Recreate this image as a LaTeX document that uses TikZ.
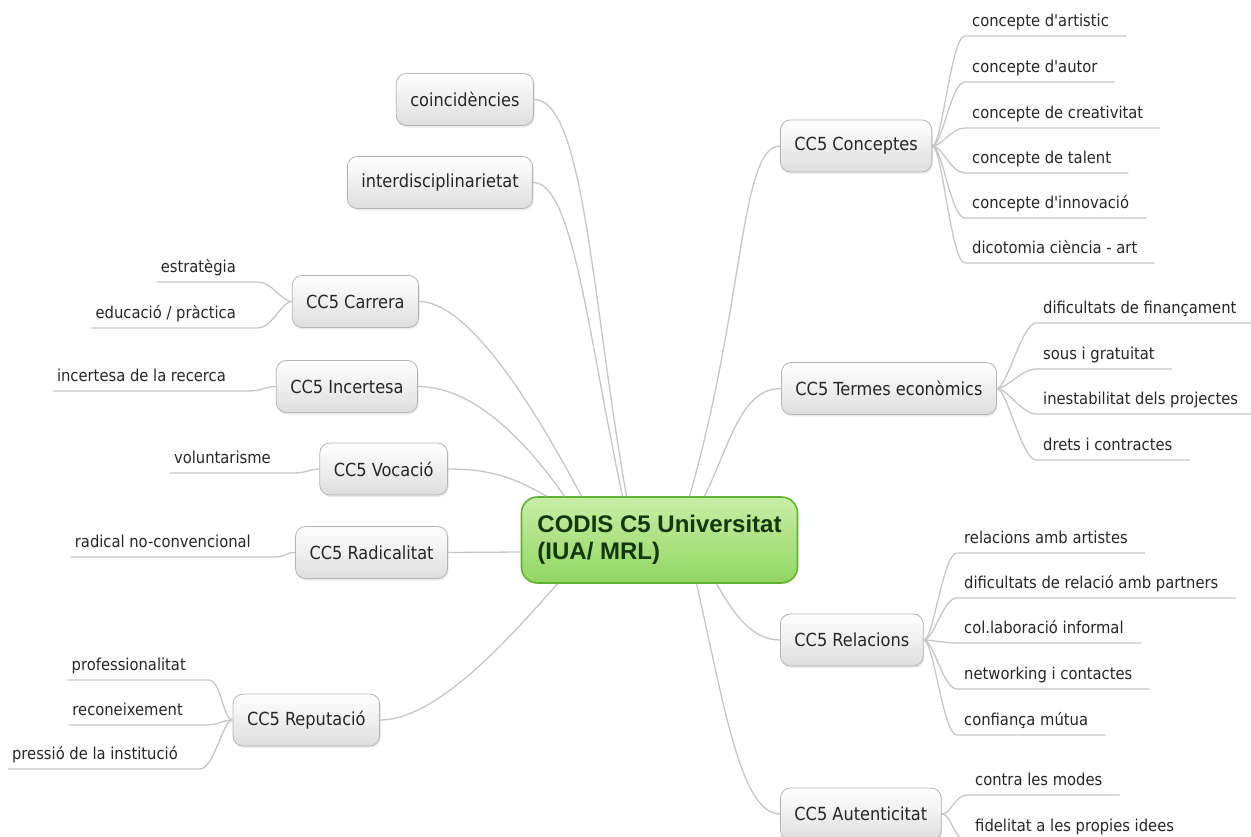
\documentclass[tikz,border=0pt]{standalone}
\usepackage{fontspec}
\setmainfont{DejaVu Sans Condensed}
\newfontfamily\rootfont{Liberation Sans}
\usetikzlibrary{shadows}

\definecolor{linegray}{RGB}{198,198,198}
\definecolor{boxline}{RGB}{180,180,180}
\definecolor{boxbot}{RGB}{222,222,222}
\definecolor{roottop}{RGB}{200,238,166}
\definecolor{rootbot}{RGB}{146,214,98}
\definecolor{rootline}{RGB}{98,178,50}
\definecolor{roottext}{RGB}{18,56,12}
\definecolor{inktext}{RGB}{38,38,38}

\begin{document}
\begin{tikzpicture}[
    x=1pt, y=1pt,
    root/.style={rounded corners=16pt, draw=rootline, line width=1.6pt,
      top color=roottop, bottom color=rootbot, align=left, inner xsep=16pt,
      minimum height=86pt, text=roottext,
      font=\rootfont\bfseries\fontsize{24}{27}\selectfont},
    topic/.style={rounded corners=10pt, draw=boxline, line width=0.8pt,
      top color=white, bottom color=boxbot, inner xsep=14pt,
      minimum height=52pt, text=inktext, font=\fontsize{18}{21}\selectfont,
      drop shadow={shadow xshift=1pt, shadow yshift=-2pt, opacity=0.15}},
    leaf/.style={inner xsep=0pt, inner ysep=5pt, text depth=4.5pt,
      text=inktext, font=\fontsize{16.4}{19}\selectfont},
    leafR/.style={leaf, anchor=south west,
      execute at begin node=\hspace{7pt}, execute at end node=\hspace{17pt}},
    leafL/.style={leaf, anchor=south east,
      execute at begin node=\hspace{4pt}, execute at end node=\hspace{22pt}},
    link/.style={draw=linegray, line width=1.3pt},
    twig/.style={link, out distance=10pt, in distance=14pt}
  ]
    \useasboundingbox (0,0) rectangle (1251,-836);

    % centre
    \node[root] (root) at (659.5,-540) {CODIS C5 Universitat\\(IUA/ MRL)};

    % topics, left
    \node[topic, anchor=east] (coi) at (534,-99.5) {coincidències};
    \node[topic, anchor=east] (int) at (533,-182.5) {interdisciplinarietat};
    \node[topic, anchor=east] (car) at (419,-301.5) {CC5 Carrera};
    \node[topic, anchor=east] (inc) at (418,-386.5) {CC5 Incertesa};
    \node[topic, anchor=east] (voc) at (448,-469) {CC5 Vocació};
    \node[topic, anchor=east] (rad) at (448,-552.5) {CC5 Radicalitat};
    \node[topic, anchor=east] (rep) at (380,-720) {CC5 Reputació};

    % topics, right
    \node[topic, anchor=west] (con) at (780,-146) {CC5 Conceptes};
    \node[topic, anchor=west] (ter) at (781,-388.5) {CC5 Termes econòmics};
    \node[topic, anchor=west] (rel) at (780,-640) {CC5 Relacions};
    \node[topic, anchor=west] (aut) at (780,-814) {CC5 Autenticitat};

    % leaves
    \node[leafR] (con1) at (965,-36) {concepte d\textquotesingle artistic};
    \node[leafR] (con2) at (965,-82) {concepte d\textquotesingle autor};
    \node[leafR] (con3) at (965,-128) {concepte de creativitat};
    \node[leafR] (con4) at (965,-173) {concepte de talent};
    \node[leafR] (con5) at (965,-218) {concepte d\textquotesingle innovació};
    \node[leafR] (con6) at (965,-263) {dicotomia ciència - art};

    \node[leafR] (ter1) at (1036,-323) {dificultats de finançament};
    \node[leafR] (ter2) at (1036,-369) {sous i gratuitat};
    \node[leafR] (ter3) at (1036,-414) {inestabilitat dels projectes};
    \node[leafR] (ter4) at (1036,-460) {drets i contractes};

    \node[leafR] (rel1) at (957,-553) {relacions amb artistes};
    \node[leafR] (rel2) at (957,-598) {dificultats de relació amb partners};
    \node[leafR] (rel3) at (957,-643) {col.laboració informal};
    \node[leafR] (rel4) at (957,-689) {networking i contactes};
    \node[leafR] (rel5) at (957,-735) {confiança mútua};

    \node[leafR] (aut1) at (968,-795) {contra les modes};
    \node[leafR] (aut2) at (968,-841) {fidelitat a les propies idees};

    \node[leafL] (car1) at (258,-282) {estratègia};
    \node[leafL] (car2) at (258,-328) {educació / pràctica};
    \node[leafL] (inc1) at (248,-391) {incertesa de la recerca};
    \node[leafL] (voc1) at (293,-473) {voluntarisme};
    \node[leafL] (rad1) at (273,-557) {radical no-convencional};
    \node[leafL] (rep1) at (208,-680) {professionalitat};
    \node[leafL] (rep2) at (205,-725) {reconeixement};
    \node[leafL] (rep3) at (200,-769) {pressió de la institució};

    % centre links
    \draw[link] (coi.east) to[out=0, in=100, out distance=50, in distance=200] ([xshift=-33pt]root.north);
    \draw[link] (int.east) to[out=0, in=102, out distance=40, in distance=170] ([xshift=-37pt]root.north);
    \draw[link] (car.east) to[out=0, in=118, out distance=50, in distance=100] ([xshift=-78pt]root.north);
    \draw[link] (inc.east) to[out=0, in=125, out distance=50, in distance=80] ([xshift=-95pt]root.north);
    \draw[link] (voc.east) to[out=0, in=150, out distance=40, in distance=40] ([xshift=-113pt]root.north);
    \draw[link] (rad.east) -- ([yshift=-12pt]root.west);
    \draw[link] (rep.east) to[out=0, in=228, out distance=60, in distance=60] ([xshift=-102pt]root.south);
    \draw[link] ([xshift=30pt]root.north) to[out=74, in=180, out distance=200, in distance=40] (con.west);
    \draw[link] ([xshift=45pt]root.north) to[out=64, in=180, out distance=60, in distance=40] (ter.west);
    \draw[link] ([xshift=57pt]root.south) to[out=-60, in=180, out distance=30, in distance=30] (rel.west);
    \draw[link] ([xshift=37pt]root.south) to[out=-77, in=180, out distance=120, in distance=40] (aut.west);

    % leaf links, right
    \draw[twig] (con.east) to[out=0, in=180] (con1.south west) -- (con1.south east);
    \draw[twig] (con.east) to[out=0, in=180] (con2.south west) -- (con2.south east);
    \draw[twig] (con.east) to[out=0, in=180] (con3.south west) -- (con3.south east);
    \draw[twig] (con.east) to[out=0, in=180] (con4.south west) -- (con4.south east);
    \draw[twig] (con.east) to[out=0, in=180] (con5.south west) -- (con5.south east);
    \draw[twig] (con.east) to[out=0, in=180] (con6.south west) -- (con6.south east);

    \draw[twig] (ter.east) to[out=0, in=180] (ter1.south west) -- (ter1.south east);
    \draw[twig] (ter.east) to[out=0, in=180] (ter2.south west) -- (ter2.south east);
    \draw[twig] (ter.east) to[out=0, in=180] (ter3.south west) -- (ter3.south east);
    \draw[twig] (ter.east) to[out=0, in=180] (ter4.south west) -- (ter4.south east);

    \draw[twig] (rel.east) to[out=0, in=180] (rel1.south west) -- (rel1.south east);
    \draw[twig] (rel.east) to[out=0, in=180] (rel2.south west) -- (rel2.south east);
    \draw[twig] (rel.east) to[out=0, in=180] (rel3.south west) -- (rel3.south east);
    \draw[twig] (rel.east) to[out=0, in=180] (rel4.south west) -- (rel4.south east);
    \draw[twig] (rel.east) to[out=0, in=180] (rel5.south west) -- (rel5.south east);

    \draw[twig] (aut.east) to[out=0, in=180] (aut1.south west) -- (aut1.south east);
    \draw[twig] (aut.east) to[out=0, in=180] (aut2.south west) -- (aut2.south east);

    % leaf links, left
    \draw[twig] (car.west) to[out=180, in=0] (car1.south east) -- (car1.south west);
    \draw[twig] (car.west) to[out=180, in=0] (car2.south east) -- (car2.south west);
    \draw[twig] (inc.west) to[out=180, in=0] (inc1.south east) -- (inc1.south west);
    \draw[twig] (voc.west) to[out=180, in=0] (voc1.south east) -- (voc1.south west);
    \draw[twig] (rad.west) to[out=180, in=0] (rad1.south east) -- (rad1.south west);
    \draw[twig] (rep.west) to[out=180, in=0] (rep1.south east) -- (rep1.south west);
    \draw[twig] (rep.west) to[out=180, in=0] (rep2.south east) -- (rep2.south west);
    \draw[twig] (rep.west) to[out=180, in=0] (rep3.south east) -- (rep3.south west);
\end{tikzpicture}
\end{document}
